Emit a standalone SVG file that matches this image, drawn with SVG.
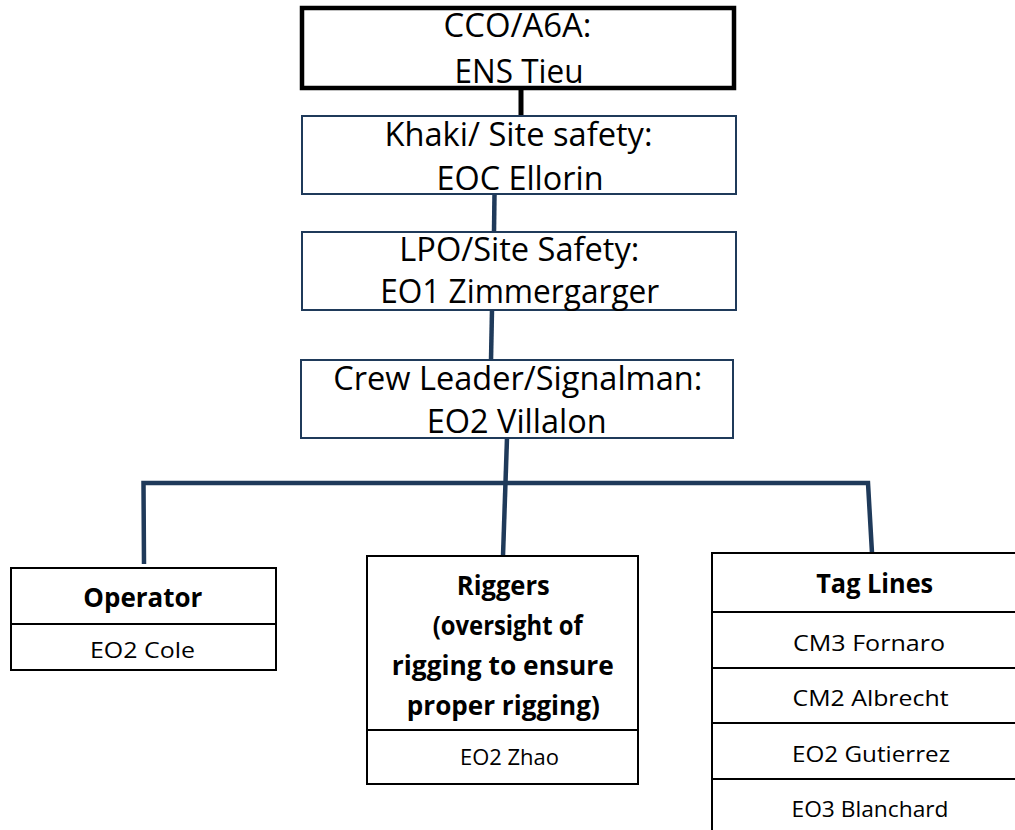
<svg xmlns="http://www.w3.org/2000/svg" width="1015" height="830" viewBox="0 0 1015 830">
<style>
.bg{fill:#ffffff}
.top{fill:#ffffff;stroke:#000000;stroke-width:4.5}
.upper{fill:#ffffff;stroke:#1f3a5a;stroke-width:2}
.lower{fill:#ffffff;stroke:#000000;stroke-width:2}
.div{stroke:#000000;stroke-width:2}
.big{font-family:"Open Sans","Liberation Sans",sans-serif;font-size:33px;fill:#000000;text-anchor:middle}
.small{font-family:"Open Sans","Liberation Sans",sans-serif;font-size:21px;fill:#000000;text-anchor:middle}
.bold{font-family:"Open Sans","Liberation Sans",sans-serif;font-size:26px;font-weight:bold;fill:#000000;text-anchor:middle}
.conn{stroke:#1f3a5a;stroke-width:4.5;fill:none;stroke-linecap:butt}
.connk{stroke:#000000;stroke-width:5;fill:none}
</style>
<rect class="bg" x="0" y="0" width="1015" height="830"/>
<g id="connectors">
<line class="connk" x1="521" y1="88" x2="521" y2="116"/>
<line class="conn" x1="494.5" y1="194" x2="494" y2="232"/>
<line class="conn" x1="492" y1="310" x2="491" y2="360"/>
<line class="conn" x1="507" y1="438" x2="503" y2="556"/>
<polyline class="conn" points="144,564 143.5,483 868,483 872,553"/>
</g>
<g id="node-cco">
<rect class="top" x="302" y="8" width="432" height="80"/>
<text class="big" x="517.5" y="37" textLength="148" lengthAdjust="spacingAndGlyphs">CCO/A6A:</text>
<text class="big" x="519" y="82.7" textLength="129" lengthAdjust="spacingAndGlyphs">ENS Tieu</text>
</g>
<g id="node-khaki">
<rect class="upper" x="302" y="116" width="434" height="78"/>
<text class="big" x="518.5" y="146" textLength="268" lengthAdjust="spacingAndGlyphs">Khaki/ Site safety:</text>
<text class="big" x="520" y="190" textLength="167" lengthAdjust="spacingAndGlyphs">EOC Ellorin</text>
</g>
<g id="node-lpo">
<rect class="upper" x="302" y="232" width="434" height="78"/>
<text class="big" x="519.3" y="261" textLength="240" lengthAdjust="spacingAndGlyphs">LPO/Site Safety:</text>
<text class="big" x="519.7" y="302.5" textLength="279" lengthAdjust="spacingAndGlyphs">EO1 Zimmergarger</text>
</g>
<g id="node-crew">
<rect class="upper" x="301" y="360" width="432" height="78"/>
<text class="big" x="517.8" y="390" textLength="369" lengthAdjust="spacingAndGlyphs">Crew Leader/Signalman:</text>
<text class="big" x="516.7" y="433.3" textLength="180" lengthAdjust="spacingAndGlyphs">EO2 Villalon</text>
</g>
<g id="node-operator">
<rect class="lower" x="11" y="568" width="265" height="102"/>
<line class="div" x1="11" y1="624" x2="276" y2="624"/>
<text class="bold" x="142.8" y="606.7" textLength="119" lengthAdjust="spacingAndGlyphs">Operator</text>
<text class="small" x="142.5" y="657.7" textLength="105" lengthAdjust="spacingAndGlyphs">EO2 Cole</text>
</g>
<g id="node-riggers">
<rect class="lower" x="367" y="556" width="271" height="228"/>
<line class="div" x1="367" y1="730" x2="638" y2="730"/>
<text class="bold" x="503.3" y="595" textLength="93" lengthAdjust="spacingAndGlyphs">Riggers</text>
<text class="bold" x="507.7" y="635" textLength="150" lengthAdjust="spacingAndGlyphs">(oversight of</text>
<text class="bold" x="502.8" y="675" textLength="222" lengthAdjust="spacingAndGlyphs">rigging to ensure</text>
<text class="bold" x="503.3" y="715" textLength="193" lengthAdjust="spacingAndGlyphs">proper rigging)</text>
<text class="small" x="509.5" y="765" textLength="99" lengthAdjust="spacingAndGlyphs">EO2 Zhao</text>
</g>
<g id="node-taglines">
<rect class="lower" x="712" y="553" width="322" height="300"/>
<line class="div" x1="712" y1="612" x2="1034" y2="612"/>
<line class="div" x1="712" y1="668" x2="1034" y2="668"/>
<line class="div" x1="712" y1="723" x2="1034" y2="723"/>
<line class="div" x1="712" y1="779" x2="1034" y2="779"/>
<text class="bold" x="874.7" y="593.3" textLength="117" lengthAdjust="spacingAndGlyphs">Tag Lines</text>
<text class="small" x="869" y="651" textLength="152" lengthAdjust="spacingAndGlyphs">CM3 Fornaro</text>
<text class="small" x="870.5" y="705.7" textLength="156" lengthAdjust="spacingAndGlyphs">CM2 Albrecht</text>
<text class="small" x="871" y="761.7" textLength="158" lengthAdjust="spacingAndGlyphs">EO2 Gutierrez</text>
<text class="small" x="870" y="816.7" textLength="157" lengthAdjust="spacingAndGlyphs">EO3 Blanchard</text>
</g>
</svg>
